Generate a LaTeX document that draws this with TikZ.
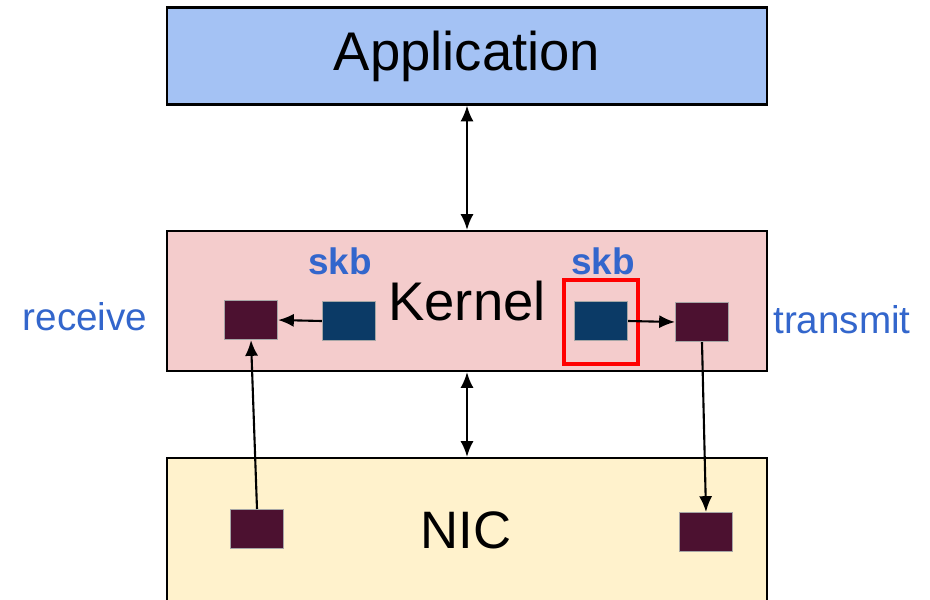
\documentclass[tikz,border=0pt]{standalone}
\usepackage{fontspec}
\setmainfont{Liberation Sans}
\usetikzlibrary{arrows.meta}

\definecolor{appblue}{HTML}{A4C2F4}
\definecolor{kernpink}{HTML}{F4CCCC}
\definecolor{nicyellow}{HTML}{FFF2CC}
\definecolor{pktmaroon}{HTML}{4C1130}
\definecolor{skbblue}{HTML}{0B3A66}
\definecolor{labelblue}{HTML}{3366CC}

\tikzset{
  layer/.style={draw=black, line width=1.3pt, minimum width=12cm, inner sep=0pt, font=\fontsize{31}{36}\selectfont},
  ringbuf/.style={fill=pktmaroon, draw=gray!70, line width=0.6pt, minimum width=1.06cm, minimum height=0.78cm, inner sep=0pt},
  skbbuf/.style={ringbuf, fill=skbblue},
  sidelabel/.style={text=labelblue, font=\fontsize{22}{26}\selectfont},
  skblabel/.style={text=labelblue, font=\fontsize{21}{25}\selectfont\bfseries},
  tip/.tip={Latex[length=9pt,width=7.5pt]},
  link/.style={line width=1.2pt, -tip},
  twoway/.style={line width=1.2pt, tip-tip}
}

\begin{document}
\begin{tikzpicture}[x=0.02cm, y=-0.02cm]
\clip (0,0) rectangle (930,599);
\fill[white] (0,0) rectangle (930,599);
% the three layers
\node[layer, fill=appblue, minimum height=1.94cm] (app) at (467,56) {Application};
\node[layer, fill=kernpink, minimum height=2.8cm] (kernel) at (467,301) {Kernel};
\node[layer, fill=nicyellow, minimum height=3.64cm] (nic) at (467,549) {};
\node[font=\fontsize{30}{35}\selectfont] (nictext) at (466,530) {NIC};
% buffers in the kernel
\node[ringbuf] (rxk) at (251,320) {};
\node[skbbuf] (skbl) at (349,321) {};
\node[skbbuf] (skbr) at (601,321) {};
\node[ringbuf] (txk) at (702,322) {};
\node[draw=red, line width=2.8pt, minimum width=1.48cm, minimum height=1.68cm] (sel) at (601,322) {};
% buffers on the card
\node[ringbuf] (rxn) at (257,529) {};
\node[ringbuf] (txn) at (706,532) {};
% labels
\node[skblabel] (skbltext) at (340,261) {skb};
\node[skblabel] (skbrtext) at (603,261) {skb};
\node[sidelabel] (rxtext) at (85,317) {receive};
\node[sidelabel] (txtext) at (842,320) {transmit};
% connectors
\draw[twoway] (app.south) -- (kernel.north);
\draw[twoway] (kernel.south) -- (nic.north);
\draw[link] (skbl.west) -- (rxk.east);
\draw[link] (skbr.east) -- (txk.west);
\draw[link] (rxn.north) -- (rxk.south);
\draw[link] (txk.south) -- (txn.north);
\end{tikzpicture}
\end{document}
